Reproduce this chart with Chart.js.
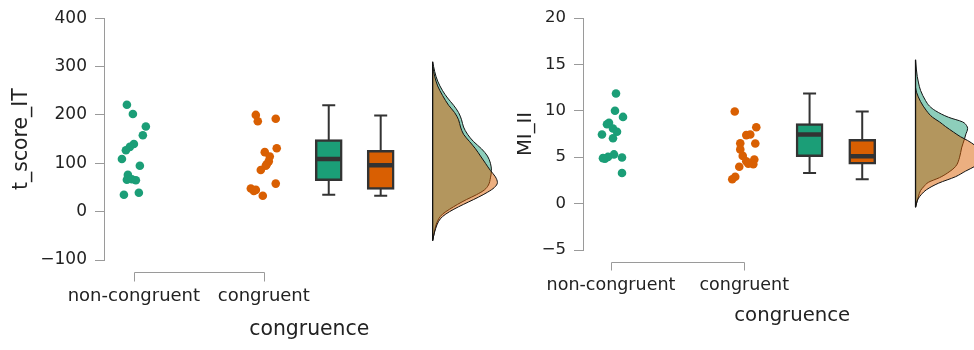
<!DOCTYPE html>
<html>
<head>
<meta charset="utf-8">
<script src="https://cdn.jsdelivr.net/npm/chart.js@4.4.1/dist/chart.umd.min.js"></script>
<style>
html, body { margin: 0; padding: 0; background: #fff; overflow: hidden; width: 974px; height: 350px; }
canvas { position: absolute; top: 0; }
#left { left: 0; }
#right { left: 487px; }
</style>
</head>
<body>
<canvas id="left" width="531" height="350"></canvas>
<canvas id="right" width="531" height="350"></canvas>
<script>
// categories
const groups = ['non-congruent', 'congruent'];

// ---- t_score_IT ----
const tNonCong = [221, 202, 176, 158, 140, 134, 127, 109, 95, 76, 66, 67, 65, 35, 39];
const tNonCongJit = [-7, -1, 12, 9, 0, -4, -8, -12, 6, -6, -7, -2, 2, -10, 5];   // px jitter
const tCong = [200, 187, 192, 131, 123, 114, 104, 98, 95, 86, 58, 48, 45, 43, 33];
const tCongJit = [-8, -6, 12, 13, 1, 6, 5, 3, 2, -3, 12, -13, -8, -10, -1];
// box: whisker low, q1, median, q3, whisker high
const tBoxNonCong = [35, 64, 109, 149, 220];
const tBoxCong = [33, 46, 96, 127, 199];
// density outline (value -> width)
const tDensNonCongAt = [-60, -45, -30, -15, -5, 5, 15, 25, 35, 45, 55, 70, 85, 100, 115, 130, 145, 160, 175, 190, 205, 220, 235, 250, 270, 290, 310];
const tDensNonCong   = [0, 1.5, 3, 6, 10, 17, 25, 34, 44, 52, 56, 58, 59, 58, 55, 49, 41, 35, 31, 29, 26, 21, 15, 10, 5, 2, 0];
const tDensCongAt = [-60, -50, -35, -20, -10, 0, 10, 20, 30, 40, 50, 60, 72, 85, 100, 115, 130, 145, 160, 175, 190, 205, 220, 240, 260, 280, 300];
const tDensCong   = [0, 1, 3, 6, 10, 17, 26, 36, 46, 55, 62, 65, 63, 58, 53, 48, 43, 37, 31, 28, 26, 22, 16, 10, 5, 2, 0];
const tTicks = [-100, 0, 100, 200, 300, 400];

// ---- MI_II ----
const mNonCong = [11.87, 10.0, 9.34, 8.7, 8.55, 8.1, 7.75, 7.45, 7.05, 5.3, 5.03, 4.96, 4.85, 4.9, 3.3];
const mNonCongJit = [5, 4, 12, -2, -4, 2, 6, -9, 2, 3, -3, 11, -6, -8, 11];
const mCong = [9.92, 8.22, 7.44, 7.38, 6.47, 6.5, 5.84, 5.14, 4.75, 4.56, 4.25, 4.3, 3.97, 2.9, 2.62];
const mCongJit = [-9.5, 12, 6, 2, 11, -4, -4, -1.5, 10, 2, 9, 4, -5, -9, -12];
const mBoxNonCong = [3.3, 5.06, 7.44, 8.63, 11.87];
const mBoxCong = [2.62, 4.24, 5.1, 6.93, 9.92];
const mDensNonCongAt = [-0.4, 0.3, 0.8, 1.4, 1.8, 2.3, 2.8, 3.3, 4, 5, 6, 7, 7.4, 8.1, 8.4, 8.8, 9.3, 10, 10.5, 11.1, 12.2, 13, 13.7, 14.5, 15.5];
const mDensNonCong   = [0, 1.7, 3, 5, 8, 13, 24, 32, 40, 44, 46, 49, 50, 52, 51, 47, 33, 20, 14, 10, 5, 3, 1.7, 0.8, 0];
const mDensCongAt = [-0.4, 0.5, 1, 1.5, 2.2, 2.9, 3.5, 4, 4.5, 5, 5.5, 6.3, 6.8, 7.2, 7.7, 8.3, 8.8, 9.3, 10, 11, 12, 12.5];
const mDensCong   = [0, 2.5, 6, 11, 23, 40, 50, 59, 66, 70, 67, 59, 52, 45, 38, 30, 24, 17, 11, 5, 1, 0];
const mTicks = [-5, 0, 5, 10, 15, 20];

const GREEN = '#1b9e77', ORANGE = '#d95f02';
const INK = '#333333';
Chart.defaults.font.family = "'DejaVu Sans', sans-serif";
Chart.defaults.color = '#222';

// range-frame style x axis: bracket between the two categories
const bracketPlugin = {
    id: 'bracket',
    afterDraw(chart, args, opts) {
        const xs = chart.scales.x, ctx = chart.ctx;
        const y0 = Math.round(chart.chartArea.bottom + opts.gap) + 0.5;
        const x1 = Math.round(xs.getPixelForValue(1)) + 0.5;
        const x2 = Math.round(xs.getPixelForValue(2)) + 0.5;
        ctx.save();
        ctx.strokeStyle = '#9a9a9a';
        ctx.lineWidth = 1;
        ctx.beginPath();
        ctx.moveTo(x1, y0 + opts.len);
        ctx.lineTo(x1, y0);
        ctx.lineTo(x2, y0);
        ctx.lineTo(x2, y0 + opts.len);
        ctx.stroke();
        ctx.restore();
    }
};

const minus = v => (v < 0 ? '\u2212' + Math.abs(v) : String(v));

function makePanel(id, p) {
    const dens = (at, w) => at.map((v, i) => ({ x: p.densX + w[i] / p.k, y: v }));

    const datasets = [
        {
            type: 'line', indexAxis: 'y', data: dens(p.densAAt, p.densA),
            backgroundColor: 'rgba(27,158,119,0.5)', borderColor: '#111', borderWidth: 1,
            fill: { value: p.densX }, pointRadius: 0, cubicInterpolationMode: 'monotone', order: 10
        },
        {
            type: 'line', indexAxis: 'y', data: dens(p.densBAt, p.densB),
            backgroundColor: 'rgba(217,95,2,0.5)', borderColor: '#111', borderWidth: 1,
            fill: { value: p.densX }, pointRadius: 0, cubicInterpolationMode: 'monotone', order: 9
        },
        {
            type: 'line', data: [{ x: p.densX, y: Math.min(p.densAAt[0], p.densBAt[0]) },
                                 { x: p.densX, y: Math.max(p.densAAt[p.densAAt.length - 1], p.densBAt[p.densBAt.length - 1]) }],
            borderColor: '#111', borderWidth: 1.3, pointRadius: 0, order: 8
        },
        {
            type: 'line', data: [{ x: p.boxX[0], y: p.boxA[0] }, { x: p.boxX[0], y: p.boxA[4] }],
            borderColor: INK, borderWidth: 2, pointRadius: 0, order: 7
        },
        {
            type: 'line', data: [{ x: p.boxX[1], y: p.boxB[0] }, { x: p.boxX[1], y: p.boxB[4] }],
            borderColor: INK, borderWidth: 2, pointRadius: 0, order: 7
        },
        {
            type: 'bar',
            data: [{ x: p.boxX[0], y: [p.boxA[1], p.boxA[3]] }, { x: p.boxX[1], y: [p.boxB[1], p.boxB[3]] }],
            backgroundColor: [GREEN, ORANGE], borderColor: INK, borderWidth: 2.5,
            borderSkipped: false, barThickness: 27, order: 6
        },
        {
            type: 'scatter',
            data: [{ x: p.boxX[0], y: p.boxA[2] }, { x: p.boxX[1], y: p.boxB[2] }],
            pointStyle: 'line', pointRadius: 12, borderColor: INK, borderWidth: 4.5, order: 5
        },
        {
            type: 'scatter',
            data: [{ x: p.boxX[0], y: p.boxA[0] }, { x: p.boxX[0], y: p.boxA[4] },
                   { x: p.boxX[1], y: p.boxB[0] }, { x: p.boxX[1], y: p.boxB[4] }],
            pointStyle: 'line', pointRadius: 6.5, borderColor: INK, borderWidth: 2, order: 5
        },
        {
            type: 'scatter', data: p.ptsA.map((v, i) => ({ x: 1 + p.jitA[i] / p.k, y: v })),
            backgroundColor: GREEN, borderWidth: 0, pointRadius: 4.3, order: 1
        },
        {
            type: 'scatter', data: p.ptsB.map((v, i) => ({ x: 2 + p.jitB[i] / p.k, y: v })),
            backgroundColor: ORANGE, borderWidth: 0, pointRadius: 4.3, order: 1
        }
    ];

    return new Chart(document.getElementById(id), {
        type: 'scatter',
        data: { datasets },
        plugins: [bracketPlugin],
        options: {
            responsive: false,
            animation: false,
            events: [],
            layout: { padding: { top: 18, right: p.padRight, left: 0, bottom: 0 } },
            plugins: {
                legend: { display: false },
                tooltip: { enabled: false },
                bracket: { gap: p.bracketGap, len: p.bracketLen }
            },
            scales: {
                x: {
                    type: 'linear', min: p.xMin, max: p.xMax, offset: false, bounds: 'data',
                    grid: { display: false, drawTicks: false, offset: false },
                    border: { display: false },
                    afterBuildTicks: s => { s.ticks = [{ value: 1 }, { value: 2 }]; },
                    afterFit: s => { s.height = p.xHeight; s.paddingLeft = 0; s.paddingRight = 0; },
                    ticks: {
                        padding: p.xLabelPad, maxRotation: 0, autoSkip: false,
                        font: { size: p.labelSize }, color: '#222',
                        callback: (v, i) => groups[i]
                    },
                    title: {
                        display: true, text: 'congruence', color: '#222',
                        font: { size: p.titleSize }, padding: { top: 0, bottom: p.xTitlePad }
                    }
                },
                y: {
                    type: 'linear', min: p.yTicks[0], max: p.yTicks[p.yTicks.length - 1],
                    afterBuildTicks: s => { s.ticks = p.yTicks.map(v => ({ value: v })); },
                    afterFit: s => { s.width = p.yWidth; },
                    grid: { drawOnChartArea: false, drawTicks: true, tickLength: 9, color: '#9a9a9a' },
                    border: { display: true, color: '#9a9a9a', width: 1 },
                    ticks: { padding: 8, font: { size: p.tickSize }, color: '#222', callback: v => minus(v) },
                    title: {
                        display: true, text: p.yTitle, color: '#222',
                        font: { size: p.titleSize }, padding: { top: p.yTitlePad, bottom: 0 }
                    }
                }
            }
        }
    });
}

makePanel('left', {
    yTitle: 't_score_IT', yTicks: tTicks,
    ptsA: tNonCong, jitA: tNonCongJit, ptsB: tCong, jitB: tCongJit,
    boxA: tBoxNonCong, boxB: tBoxCong, boxX: [2.5, 2.9],
    densAAt: tDensNonCongAt, densA: tDensNonCong, densBAt: tDensCongAt, densB: tDensCong, densX: 3.3,
    k: 130.4, xMin: 0.77, xMax: 3.93, padRight: 4, yWidth: 104, xHeight: 90,
    xLabelPad: 26, xTitlePad: 8, yTitlePad: 9,
    tickSize: 17, labelSize: 18, titleSize: 20.4,
    bracketGap: 12, bracketLen: 9
});

makePanel('right', {
    yTitle: 'MI_II', yTicks: mTicks,
    ptsA: mNonCong, jitA: mNonCongJit, ptsB: mCong, jitB: mCongJit,
    boxA: mBoxNonCong, boxB: mBoxCong, boxX: [2.49, 2.885],
    densAAt: mDensNonCongAt, densA: mDensNonCong, densBAt: mDensCongAt, densB: mDensCong, densX: 3.285,
    k: 133.1, xMin: 0.79, xMax: 3.93, padRight: 6, yWidth: 96, xHeight: 100,
    xLabelPad: 25, xTitlePad: 22, yTitlePad: 27,
    tickSize: 16.5, labelSize: 17.5, titleSize: 19.7,
    bracketGap: 12, bracketLen: 8
});
</script>
</body>
</html>
